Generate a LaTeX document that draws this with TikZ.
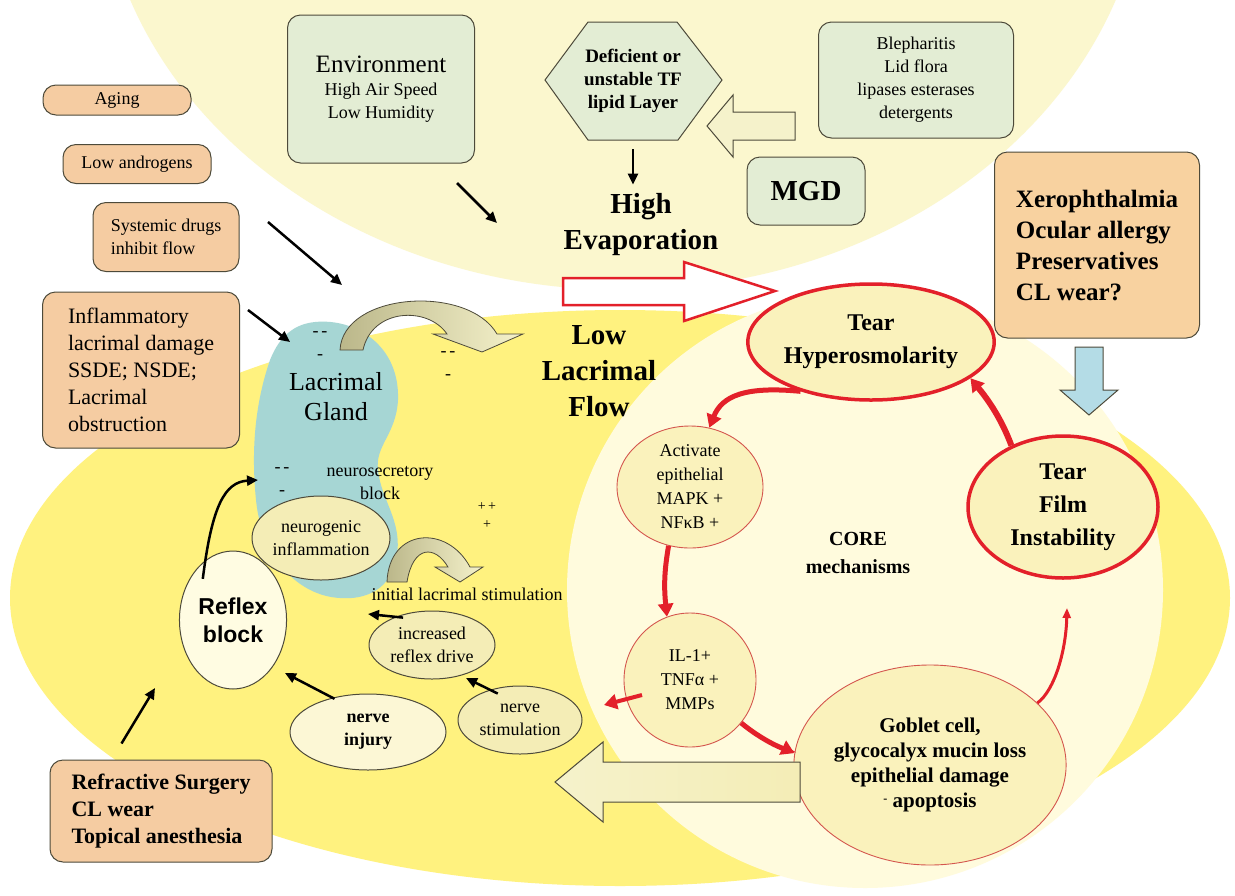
\documentclass[tikz,border=0pt]{standalone}
\usepackage{fontspec}
\setmainfont{Liberation Serif}
\newfontfamily\reflexfont{Liberation Sans}
\usetikzlibrary{shapes.geometric,arrows.meta}

\definecolor{toppale}{HTML}{FBF7CE}
\definecolor{yellowbg}{HTML}{FFF27F}
\definecolor{corepale}{HTML}{FFFBDD}
\definecolor{orangefill}{HTML}{F5CCA2}
\definecolor{xerofill}{HTML}{F8D2A0}
\definecolor{greenfill}{HTML}{E3EDD4}
\definecolor{boxline}{HTML}{4D4A3A}
\definecolor{glandfill}{HTML}{A6D6D4}
\definecolor{ovalfill}{HTML}{F4EDB6}
\definecolor{injuryfill}{HTML}{FCF7D5}
\definecolor{reflexfill}{HTML}{FFFCE2}
\definecolor{tearfill}{HTML}{FAF2BC}
\definecolor{redline}{HTML}{E3202A}
\definecolor{thinred}{HTML}{D4564E}
\definecolor{bluearrow}{HTML}{B4DCE6}
\definecolor{olivearrow}{HTML}{BBB78A}
\definecolor{palearrow}{HTML}{F5F2CB}

\newcommand\fsmall{\fontsize{18}{23}\selectfont}
\newcommand\fenv{\fontsize{25}{28}\selectfont}
\newcommand\finflam{\fontsize{22}{27}\selectfont}
\newcommand\fbig{\fontsize{29}{36}\selectfont\bfseries}
\newcommand\fxero{\fontsize{25}{31}\selectfont\bfseries}
\newcommand\fhex{\fontsize{19}{23}\selectfont\bfseries}
\newcommand\frefract{\fontsize{22}{27}\selectfont\bfseries}
\newcommand\ftear{\fontsize{24}{33}\selectfont\bfseries}
\newcommand\fgoblet{\fontsize{21}{25}\selectfont\bfseries}
\newcommand\fgland{\fontsize{26}{30}\selectfont}

\tikzset{
  orangebox/.style={rectangle, rounded corners=13pt, draw=boxline, line width=1pt, fill=orangefill, inner sep=0pt, font=\fsmall},
  greenbox/.style={rectangle, rounded corners=13pt, draw=boxline, line width=1pt, fill=greenfill, inner sep=0pt, font=\fsmall, align=center},
  nerveoval/.style={ellipse, draw=boxline, line width=1pt, fill=ovalfill, inner sep=0pt, font=\fsmall, align=center},
  coreoval/.style={ellipse, draw=thinred, line width=0.9pt, fill=tearfill, inner sep=0pt, font=\fsmall, align=center},
  redoval/.style={ellipse, draw=redline, line width=3.5pt, fill=tearfill, inner sep=0pt, font=\ftear, align=center},
  blackarrow/.style={-{Triangle[length=11pt,width=10pt]}, line width=2.5pt},
  redarrow/.style={-{Triangle[length=13pt,width=15pt]}, line width=5pt, draw=redline},
  marks/.style={inner sep=0pt, font=\fsmall, align=center}
}

\begin{document}
\begin{tikzpicture}[x=1pt,y=-1pt]

\useasboundingbox (0,0) rectangle (1235,895);
\fill[white] (0,0) rectangle (1235,895);

% background zones
\begin{scope}
\clip (0,0) rectangle (1235,895);
\fill[toppale] (623,-150) ellipse [x radius=524, y radius=440];
\fill[yellowbg] (620,598) ellipse [x radius=610, y radius=288];
\fill[corepale] (865,590) circle [radius=298];
\end{scope}

% risk factors
\node (aging) [orangebox, minimum width=148pt, minimum height=30pt] at (117,100) {Aging};
\node (androgens) [orangebox, minimum width=148pt, minimum height=39pt] at (137,164) {Low androgens};
\node (drugs) [orangebox, minimum width=146pt, minimum height=69pt, align=left] at (166,237) {Systemic drugs\\inhibit flow};
\node (inflam) [orangebox, font=\finflam, minimum width=197pt, minimum height=156pt, align=left] at (141,370) {Inflammatory\\lacrimal damage\\SSDE; NSDE;\\Lacrimal\\obstruction};
\node (refract) [orangebox, font=\frefract, minimum width=222pt, minimum height=102pt, align=left] at (161,811) {Refractive Surgery\\CL wear\\Topical anesthesia};
\node (xero) [orangebox, fill=xerofill, font=\fxero, minimum width=205pt, minimum height=186pt, align=left] at (1097,245) {Xerophthalmia\\Ocular allergy\\Preservatives\\CL wear?};

% evaporation side
\node (env) [greenbox, minimum width=187pt, minimum height=148pt] at (381,89) {{\fenv Environment}\\High Air Speed\\Low Humidity};
\node (bleph) [greenbox, minimum width=195pt, minimum height=116pt] at (916,80) {Blepharitis\\Lid flora\\lipases esterases\\detergents};
\node (mgd) [greenbox, font=\fbig, minimum width=118pt, minimum height=68pt] at (806,191) {MGD};

\draw[fill=greenfill, draw=boxline, line width=1pt] (545,80) -- (588,22) -- (677,22) -- (722,80) -- (678,140) -- (588,140) -- cycle;
\node (hex) [font=\fhex, align=center, minimum height=118pt] at (633,81) {Deficient or\\unstable TF\\lipid Layer};

\node (evap) [font=\fbig, align=center, inner sep=0pt] at (641,225) {High\\Evaporation};

\draw[fill=palearrow, draw=boxline, line width=1pt] (795,112) -- (733,112) -- (733,95) -- (707,126) -- (733,157) -- (733,140) -- (795,140) -- cycle;

\coordinate (envtail) at (457,183);
\coordinate (envtip) at (497,223);
\draw[blackarrow] (envtail) -- (envtip);
\draw[blackarrow, shorten <=9pt, shorten >=9pt] (hex.south) -- (hex.south |- evap.north);

\draw[draw=redline, line width=2.5pt, fill=white] (563,278) -- (684,278) -- (684,262) -- (775,291) -- (684,321) -- (684,305) -- (563,305) -- cycle;

\draw[fill=bluearrow, draw=boxline, line width=1pt] (1075,347) -- (1103,347) -- (1103,390) -- (1118,390) -- (1089,415) -- (1060,390) -- (1075,390) -- cycle;

% lacrimal gland
\fill[glandfill] (315,322) .. controls (355,318) and (400,345) .. (398,400)
  .. controls (396,435) and (375,445) .. (378,470)
  .. controls (381,500) and (402,520) .. (397,555)
  .. controls (392,590) and (365,600) .. (340,598)
  .. controls (300,596) and (262,560) .. (256,500)
  .. controls (250,440) and (258,395) .. (270,360)
  .. controls (280,335) and (295,324) .. (315,322) -- cycle;
\node (gland) [font=\fgland, align=center] at (336,397) {Lacrimal\\Gland};

\shadedraw[left color=olivearrow, right color=palearrow, draw=boxline, line width=0.8pt]
  (340,350) .. controls (343,292) and (468,284) .. (497,334) -- (523,334) -- (482,352) -- (433,334) -- (447,334)
  .. controls (428,306) and (372,308) .. (363,350) -- cycle;
\shadedraw[left color=olivearrow, right color=palearrow, draw=boxline, line width=0.8pt]
  (387,582) .. controls (389,528) and (447,524) .. (470,567) -- (483,567) -- (460,582) -- (435,567) -- (448,567)
  .. controls (435,545) and (413,545) .. (407,582) -- cycle;

\node (minusa) [marks] at (320,346) {-\,-\\-};
\node (minusb) [marks] at (448,366) {-\,-\\-};
\node (minusc) [marks] at (282,482) {-\,-\\-};
\node (plusa) [marks, font=\fontsize{14}{18}\selectfont] at (487,516) {+\,+\\+};

\node (lowflow) [font=\fbig, align=center] at (599,371) {Low\\Lacrimal\\Flow};
\node (secret) [font=\fsmall, align=center, inner sep=0pt] at (380,483) {neurosecretory\\block};
\node (neuroinfl) [nerveoval, minimum width=138pt, minimum height=84pt] at (321,538) {neurogenic\\inflammation};
\node (initstim) [font=\fsmall, inner sep=0pt] at (467,594) {initial lacrimal stimulation};

% reflex loop
\node (reflex) [ellipse, draw=boxline, line width=1pt, fill=reflexfill, minimum width=96pt, minimum height=138pt, align=center, font=\fontsize{23}{28}\selectfont\reflexfont\bfseries] at (233,620) {Reflex\\block};
\node (drive) [nerveoval, minimum width=126pt, minimum height=68pt] at (432,645) {increased\\reflex drive};
\node (injury) [nerveoval, fill=injuryfill, font=\fsmall\bfseries, minimum width=156pt, minimum height=76pt] at (368,732) {nerve\\injury};
\node (stim) [nerveoval, minimum width=124pt, minimum height=68pt] at (520,720) {nerve\\stimulation};

\draw[blackarrow] (reflex.north west) ++(8,8) .. controls (212,505) and (225,482) .. (258,480);
\coordinate (refracttip) at (155,688);
\draw[blackarrow] (refract.north west) ++(72,-16) -- (refracttip);
\draw[blackarrow] (injury.north west) ++(22,-6) -- (285,673);
\draw[blackarrow] (stim.north west) ++(22,-2) -- (466,678);
\draw[blackarrow] (drive.north west) ++(16,-3) -- (368,614);
\coordinate (drugstail) at (268,222);
\coordinate (drugstip) at (342,285);
\draw[blackarrow] (drugstail) -- (drugstip);
\coordinate (inflamtail) at (248,310);
\coordinate (inflamtip) at (290,342);
\draw[blackarrow] (inflamtail) -- (inflamtip);

% core mechanisms
\node (hyper) [redoval, minimum width=208pt, minimum height=116pt] at (871,342) {Tear\\Hyperosmolarity};
\node (instab) [redoval, minimum width=190pt, minimum height=142pt] at (1063,507) {Tear\\Film\\Instability};
\node (act) [coreoval, minimum width=146pt, minimum height=122pt, font=\fontsize{18}{24}\selectfont] at (690,487) {Activate\\epithelial\\MAPK +\\NFκB +};
\node (il) [coreoval, minimum width=132pt, minimum height=134pt, font=\fontsize{18}{24}\selectfont] at (690,680) {IL-1+\\TNFα +\\MMPs};
\node (goblet) [coreoval, font=\fgoblet, minimum width=226pt, minimum height=200pt] at (930,765) {Goblet cell,\\glycocalyx mucin loss\\epithelial damage\\\raisebox{5pt}{\fontsize{12}{12}\selectfont -} apoptosis};
\node (core) [font=\fontsize{20}{28}\selectfont\bfseries, align=center] at (858,553) {CORE\\mechanisms};

\draw[shade, left color=palearrow, right color=ovalfill, draw=boxline, line width=1pt] (800,762) -- (603,762) -- (603,742) -- (555,782) -- (603,822) -- (603,802) -- (800,802) -- cycle;

\draw[redarrow] (hyper.215) .. controls (745,386) and (722,396) .. (act.72);
\draw[redarrow] (act.250) .. controls (664,572) and (664,588) .. (il.110);
\coordinate (ilout) at (642,695);
\coordinate (stimin) at (604,705);
\draw[redarrow, line width=4pt] (ilout) -- (stimin);
\draw[redarrow] (il.320) .. controls (768,745) and (792,752) .. (goblet.175);
\draw[redarrow, line width=3pt, -{Triangle[length=10pt,width=8pt]}] (goblet.30) .. controls (1055,690) and (1066,650) .. (1067,608);
\draw[redarrow, line width=6pt] (instab.130) .. controls (1000,415) and (985,396) .. (hyper.340);

\end{tikzpicture}
\end{document}
